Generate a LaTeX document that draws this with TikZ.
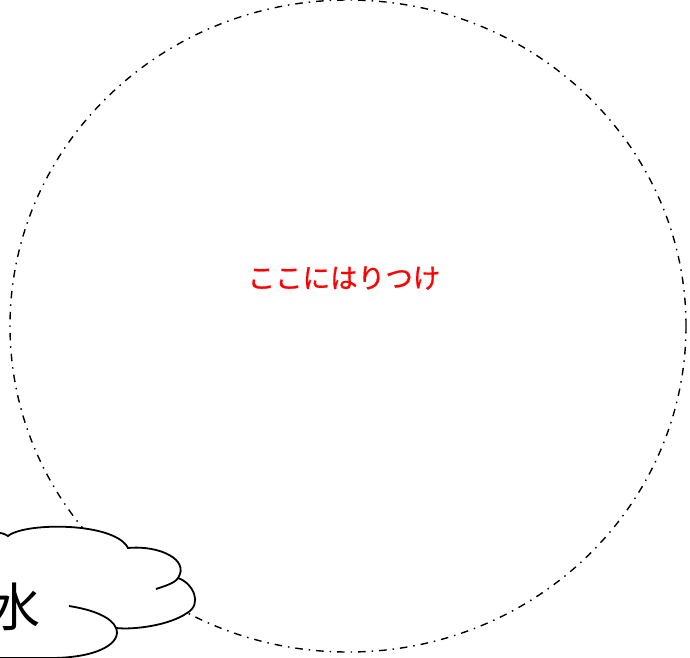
\documentclass[tikz,border=0pt]{standalone}
\usepackage{fontspec}
\newfontfamily\jp{Noto Sans CJK JP}
\newfontfamily\jpbold[FakeBold=0.6]{Noto Sans CJK JP}
\usetikzlibrary{shapes.geometric}
\tikzset{
  frameline/.style={draw=black, line width=1.4pt, dash pattern=on 7.5pt off 6pt on 1.5pt off 6pt},
  cloudline/.style={draw=black, line width=1.8pt, fill=white},
  label/.style={font=\jpbold\fontsize{27.5}{30}\selectfont, text=red, inner sep=0pt},
  big/.style={font=\jp\fontsize{52}{56}\selectfont, text=black, inner sep=0pt}
}
\begin{document}
\begin{tikzpicture}[x=1pt,y=1pt]
\useasboundingbox (0,0) rectangle (690,-657);
\node[ellipse, frameline, minimum width=676pt, minimum height=652pt, inner sep=0pt] (frame) at (348,-326) {};
\node[label] (paste) at (344,-278) {ここにはりつけ};
\path[cloudline] (-40,-560) .. controls (-35,-535) and (-5,-527) .. (8,-536)
  .. controls (25,-522) and (115,-522) .. (128,-548)
  .. controls (160,-545) and (190,-560) .. (178,-578)
  .. controls (193,-583) and (203,-604) .. (187,-613)
  .. controls (170,-625) and (135,-630) .. (116,-628)
  .. controls (122,-642) and (100,-658) .. (50,-658)
  -- (-40,-658) -- cycle;
\draw[line width=1.8pt] (156,-589) .. controls (165,-586) and (175,-583) .. (178,-578);
\draw[line width=1.8pt] (69,-606) .. controls (95,-610) and (112,-618) .. (116,-628);
\node[big] (water) at (14,-607) {水};
\end{tikzpicture}
\end{document}
